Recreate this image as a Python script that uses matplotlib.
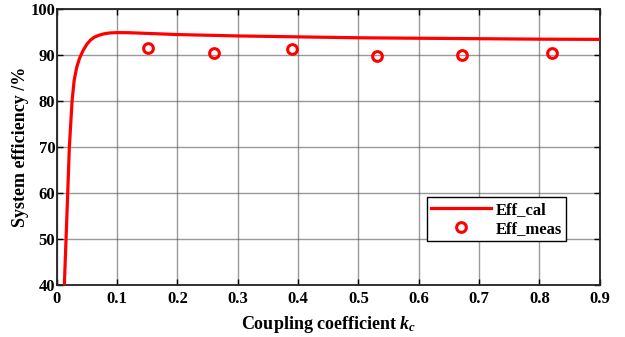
import matplotlib
matplotlib.use('Agg')
import matplotlib.pyplot as plt

plt.rcParams['font.family'] = 'Liberation Serif'
plt.rcParams['font.weight'] = 'bold'
plt.rcParams['mathtext.fontset'] = 'custom'
plt.rcParams['mathtext.rm'] = 'Liberation Serif:bold'
plt.rcParams['mathtext.it'] = 'Liberation Serif:italic:bold'

# calculated efficiency curve
k_cal = [0.0127, 0.0155, 0.0183, 0.021, 0.0255, 0.029, 0.033, 0.038, 0.044,
         0.05, 0.056, 0.062, 0.07, 0.078, 0.088, 0.1, 0.12, 0.15, 0.2, 0.3,
         0.4, 0.5, 0.6, 0.7, 0.8, 0.9]
eff_cal = [40, 50, 60, 70, 80, 84.5, 87.2, 89.3, 91.0,
           92.3, 93.2, 93.8, 94.25, 94.55, 94.75, 94.82, 94.8, 94.65, 94.4, 94.1,
           93.9, 93.7, 93.6, 93.5, 93.4, 93.35]

# measured points
k_meas = [0.151, 0.26, 0.39, 0.531, 0.671, 0.821]
eff_meas = [91.4, 90.5, 91.2, 89.8, 89.9, 90.3]

fig = plt.figure(figsize=(6.25, 3.37), dpi=100)
ax = fig.add_axes([0.0907, 0.154, 0.869, 0.82])

ax.plot(k_cal, eff_cal, color='red', linewidth=2.3, label='Eff_cal', zorder=3)
ax.plot(k_meas, eff_meas, linestyle='none', marker='o', markersize=7,
        markerfacecolor='none', markeredgecolor='red', markeredgewidth=2.2,
        label='Eff_meas', zorder=4)

ax.set_xlim(0, 0.9)
ax.set_ylim(40, 100)
ax.set_xticks([0, 0.1, 0.2, 0.3, 0.4, 0.5, 0.6, 0.7, 0.8, 0.9])
ax.set_xticklabels(['0', '0.1', '0.2', '0.3', '0.4', '0.5', '0.6', '0.7', '0.8', '0.9'])
ax.set_yticks([40, 50, 60, 70, 80, 90, 100])
ax.tick_params(direction='in', top=True, right=True, labelsize=12, length=4, width=1)
ax.tick_params(axis='y', pad=1)
ax.tick_params(axis='x', pad=4)
ax.grid(True, color='#555555', alpha=0.6, linewidth=1)
for s in ax.spines.values():
    s.set_linewidth(1.3)
    s.set_color('#222222')

ax.set_xlabel('Coupling coefficient $k_c$', fontsize=13, fontweight='bold', labelpad=5)
ax.set_ylabel('System efficiency /%', fontsize=13, fontweight='bold', labelpad=1)

leg = ax.legend(loc='lower left', bbox_to_anchor=(0.681, 0.159), fancybox=False,
                edgecolor='black', framealpha=1, fontsize=12, borderpad=0.25,
                handlelength=3.6, handletextpad=0.3, labelspacing=0.2, borderaxespad=0)
leg.get_frame().set_linewidth(1)

fig.savefig('out.png', dpi=100)
